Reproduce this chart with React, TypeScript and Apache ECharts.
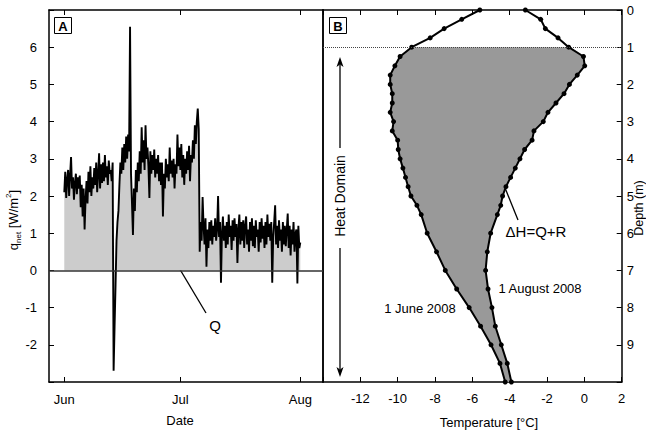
import React, { useEffect, useRef } from 'react';
import * as echarts from 'echarts';

// ---------- Panel A: net heat flux (4 samples per day, starting 1 June) ----------
const monthTickDays = [0, 30, 61];
const monthTickLabels = ['Jun', 'Jul', 'Aug'];
const qStepDays = 0.25;

const qJun = [
  2.1, 2.65, 1.95, 2.45,
  2.7, 2.0, 2.55, 3.05,
  2.2, 2.5, 1.9, 2.35,
  2.6, 2.05, 2.5, 2.2,
  2.55, 1.7, 2.3, 1.45,
  2.2, 1.1, 1.9, 2.4,
  1.8, 2.65, 2.1, 2.8,
  2.0, 2.5, 2.2, 2.75,
  2.3, 2.9, 2.1, 2.6,
  3.15, 2.2, 2.85, 2.35,
  2.9, 2.4, 3.1, 2.5,
  2.8, 2.3, 2.95, 2.6,
  2.7, 2.4, 2.9, -2.7,
  -1.5, -0.4, 0.8, 1.3,
  1.6, 2.3, 2.9, 2.6,
  3.3, 2.7, 3.4, 2.9,
  3.6, 3.0, 3.65, 3.2,
  6.55, 2.6, 1.8, 0.95,
  2.2, 1.6, 2.7, 2.1,
  2.9, 2.4, 3.2, 2.6,
  3.85, 2.9, 3.5, 2.7,
  3.9, 3.0, 3.3, 2.8,
  1.95, 3.2, 2.6, 3.1,
  2.7, 3.25, 2.5, 3.0,
  2.6, 3.1, 2.4, 2.9,
  2.3, 2.9, 1.45, 2.6,
  2.2, 3.0, 2.5, 2.85,
  2.4, 3.3, 2.6, 2.95,
  2.5, 3.0, 2.2, 2.85,
  2.6, 3.65, 2.8, 3.3,
];

const qJul = [
  2.7, 3.4, 2.5, 3.1,
  2.3, 3.0, 2.6, 3.2,
  2.7, 3.35, 2.4, 3.1,
  2.9, 3.5, 3.0, 3.9,
  3.4, 4.0, 4.35, 3.8,
  0.5, 1.3, 0.8, 1.97,
  1.2, 0.7, 1.4, 0.1,
  1.1, 0.6, 1.3, 0.8,
  1.35, 0.7, 1.2, 0.9,
  1.4, 0.8, 1.1, 2.0,
  0.9, 1.3, -0.33, 1.0,
  1.45, 0.8, 1.2, 0.6,
  1.3, 0.7, 1.5, 0.9,
  1.2, 0.55, 1.35, 0.8,
  1.4, 0.9, 1.25, 0.2,
  1.1, 1.5, 0.7, 1.3,
  0.8, 1.35, 0.6, 1.2,
  1.45, 0.7, 1.1, 0.5,
  1.3, 0.8, 1.4, 0.65,
  1.2, 0.6, 1.35, 0.9,
  1.1, 0.5, 1.3, 0.75,
  1.4, 0.85, 1.2, 0.6,
  1.3, 0.7, 1.5, 0.9,
  1.25, 0.8, 1.3, -0.33,
  0.9, 1.3, 1.75, 0.7,
  1.2, 0.6, 1.35, 0.8,
  1.1, 0.5, 1.3, 0.7,
  1.2, 0.65, 1.1, 1.53,
  0.6, 1.2, 0.4, 1.1,
  0.7, 1.3, 0.5, 1.0,
  1.1, -0.35, 1.2, 0.6,
  0.75,
];

// ---------- Panel B: temperature profiles ----------
const depths = [0, 0.25, 0.5, 0.75, 1, 1.25, 1.5, 1.75, 2, 2.25, 2.5, 2.75, 3, 3.25, 3.5, 3.75,
  4, 4.25, 4.5, 4.75, 5, 5.25, 5.5, 6, 6.5, 7, 7.5, 8, 8.5, 9, 9.5, 10];
const tempJune = [-5.6, -6.57, -7.51, -8.26, -9.25, -9.87, -10.15, -10.4, -10.4, -10.29, -10.29, -10.4,
  -10.22, -10.29, -10.0, -9.97, -9.87, -9.72, -9.58, -9.44, -9.29, -8.97, -8.74, -8.42, -7.92, -7.45,
  -6.84, -6.17, -5.56, -5.0, -4.52, -4.24];
const tempAug = [-3.16, -2.34, -2.09, -1.41, -0.84, -0.05, 0.02, -0.38, -0.8, -1.09, -1.52, -1.95,
  -2.2, -2.7, -2.8, -3.2, -3.45, -3.7, -3.95, -4.2, -4.38, -4.48, -4.66, -5.02, -5.2, -5.29, -5.16,
  -4.95, -4.77, -4.45, -4.13, -3.91];
const heatDomainTop = 1;

const FONT = 'Liberation Sans, Arial, sans-serif';

function arrow(x1: number, y1: number, x2: number, y2: number, len = 10, half = 3.5) {
  const dx = x2 - x1, dy = y2 - y1;
  const d = Math.sqrt(dx * dx + dy * dy);
  const ux = dx / d, uy = dy / d;
  const px = -uy, py = ux;
  const bx = x2 - ux * len, by = y2 - uy * len;
  const nx = x2 - ux * len * 0.75, ny = y2 - uy * len * 0.75;
  return [
    { type: 'line', shape: { x1, y1, x2: nx, y2: ny }, style: { stroke: '#000', lineWidth: 1.3 }, silent: true },
    {
      type: 'polygon',
      shape: { points: [[x2, y2], [bx + px * half, by + py * half], [nx, ny], [bx - px * half, by - py * half]] },
      style: { fill: '#000' }, silent: true,
    },
  ];
}

function txt(x: number, y: number, text: string, size = 13) {
  return {
    type: 'text', x, y, silent: true,
    style: { text, fill: '#000', font: `${size}px ${FONT}`, align: 'center', verticalAlign: 'middle' },
  };
}

export default function App() {
  const ref = useRef<HTMLDivElement>(null);
  useEffect(() => {
    if (!ref.current) return;
    const chart = echarts.init(ref.current, null, { renderer: 'svg' });
    const qAll = [...qJun, ...qJul];
    const qData = qAll.map((v, i) => [i * qStepDays, v]);
    const axisLine = { show: true, onZero: false, lineStyle: { color: '#000', width: 1.5 } };
    const tick = { show: true, inside: true, length: 5, lineStyle: { color: '#000', width: 1 } };
    const lbl = { color: '#000', fontSize: 13, fontFamily: FONT };

    const graphic: any[] = [
      // panel tags
      { type: 'rect', shape: { x: 54.5, y: 17.5, width: 17, height: 16 }, style: { fill: '#fff', stroke: '#000', lineWidth: 1 }, z: 100 },
      { type: 'text', x: 63, y: 26, z: 101, style: { text: 'A', font: `bold 13px ${FONT}`, fill: '#000', align: 'center', verticalAlign: 'middle' } },
      { type: 'rect', shape: { x: 329.5, y: 17.5, width: 17, height: 16 }, style: { fill: '#fff', stroke: '#000', lineWidth: 1 }, z: 100 },
      { type: 'text', x: 338, y: 26, z: 101, style: { text: 'B', font: `bold 13px ${FONT}`, fill: '#000', align: 'center', verticalAlign: 'middle' } },
      // axis names
      txt(180, 420, 'Date', 13),
      txt(489, 422, 'Temperature [°C]', 13),
      { type: 'text', x: 638.5, y: 208, rotation: Math.PI / 2, style: { text: 'Depth (m)', fill: '#000', font: `12.5px ${FONT}`, align: 'center', verticalAlign: 'middle' } },
      {
        type: 'text', x: 13, y: 220, rotation: Math.PI / 2,
        style: {
          text: '{n|q}{s|net}{n| [W/m}{p|2}{n|]}', align: 'center', verticalAlign: 'middle', fill: '#000',
          rich: {
            n: { fontSize: 13, fontFamily: FONT, lineHeight: 18, verticalAlign: 'middle', fill: '#000' },
            s: { fontSize: 8, fontFamily: FONT, lineHeight: 8, verticalAlign: 'bottom', fill: '#000' },
            p: { fontSize: 8, fontFamily: FONT, lineHeight: 8, verticalAlign: 'top', fill: '#000' },
          },
        },
      },
      // annotations A
      txt(215, 325, 'Q', 15),
      ...arrow(206, 313, 166, 246),
      // annotations B
      txt(536, 231, 'ΔH=Q+R', 15),
      ...arrow(518, 220, 493, 158),
      txt(540, 288, '1 August 2008', 13),
      txt(420, 308, '1 June 2008', 13),
      { type: 'text', x: 340, y: 196, rotation: Math.PI / 2, style: { text: 'Heat Domain', fill: '#000', font: `14px ${FONT}`, align: 'center', verticalAlign: 'middle' } },
      ...arrow(340, 148, 340, 57),
      ...arrow(340, 248, 340, 377),
    ];

    chart.setOption({
      animation: false,
      backgroundColor: '#fff',
      grid: [
        { left: 49, top: 10, width: 274, height: 372 },
        { left: 323, top: 10, width: 298.7, height: 372 },
      ],
      xAxis: [
        {
          gridIndex: 0, type: 'value', min: -3.95, max: 66.87, position: 'bottom',
          axisLine, axisTick: { ...tick, customValues: monthTickDays },
          axisLabel: { ...lbl, margin: 11, customValues: monthTickDays,
            formatter: (v: number) => monthTickLabels[monthTickDays.indexOf(Math.round(v))] ?? '' },
          splitLine: { show: false },
        },
        {
          gridIndex: 0, type: 'value', min: -3.95, max: 66.87, position: 'top',
          axisLine, axisTick: { ...tick, customValues: monthTickDays },
          axisLabel: { show: false }, splitLine: { show: false },
        },
        {
          gridIndex: 1, type: 'value', min: -14, max: 2, interval: 2, position: 'bottom',
          axisLine, axisTick: tick,
          axisLabel: { ...lbl, margin: 10, showMaxLabel: true, formatter: (v: number) => (v === -14 ? '' : String(v)) },
          splitLine: { show: false },
        },
        {
          gridIndex: 1, type: 'value', min: -14, max: 2, interval: 2, position: 'top',
          axisLine, axisTick: tick, axisLabel: { show: false }, splitLine: { show: false },
        },
      ],
      yAxis: [
        {
          gridIndex: 0, type: 'value', min: -3, max: 7, interval: 1, position: 'left',
          axisLine, axisTick: tick,
          axisLabel: { ...lbl, margin: 12, formatter: (v: number) => (v === -3 || v === 7 ? '' : String(v)) },
          splitLine: { show: false },
        },
        {
          gridIndex: 0, type: 'value', min: -3, max: 7, interval: 1, position: 'right',
          axisLine, axisTick: { show: false }, axisLabel: { show: false }, splitLine: { show: false },
        },
        {
          gridIndex: 1, type: 'value', min: 0, max: 10, interval: 1, inverse: true, position: 'right',
          axisLine, axisTick: tick,
          axisLabel: { ...lbl, margin: 5, showMinLabel: true, formatter: (v: number) => (v === 10 ? '' : String(v)) },
          splitLine: { show: false },
        },
        {
          gridIndex: 1, type: 'value', min: 0, max: 10, inverse: true, position: 'left',
          axisLine, axisTick: { show: false }, axisLabel: { show: false }, splitLine: { show: false },
        },
      ],
      series: [
        {
          type: 'line', xAxisIndex: 0, yAxisIndex: 0, data: qData, showSymbol: false, symbol: 'none',
          lineStyle: { color: '#000', width: 1.9 }, areaStyle: { color: '#cccccc', opacity: 1 },
          markLine: {
            silent: true, symbol: 'none', label: { show: false },
            lineStyle: { color: '#333', width: 1.5, type: 'solid' },
            data: [{ yAxis: 0 }],
          },
          z: 2,
        },
        {
          type: 'custom', xAxisIndex: 2, yAxisIndex: 2, data: [[-5, 5]], silent: true, z: 1,
          renderItem: (_params: any, api: any) => {
            const pts: number[][] = [];
            for (let i = 0; i < depths.length; i++) if (depths[i] >= heatDomainTop) pts.push(api.coord([tempJune[i], depths[i]]));
            for (let i = depths.length - 1; i >= 0; i--) if (depths[i] >= heatDomainTop) pts.push(api.coord([tempAug[i], depths[i]]));
            return { type: 'polygon', shape: { points: pts }, style: { fill: '#999999' } };
          },
        },
        {
          type: 'line', name: '1 June 2008', xAxisIndex: 2, yAxisIndex: 2,
          data: depths.map((d, i) => [tempJune[i], d]),
          symbol: 'circle', symbolSize: 5, itemStyle: { color: '#000' },
          lineStyle: { color: '#000', width: 2 }, z: 3,
        },
        {
          type: 'line', name: '1 August 2008', xAxisIndex: 2, yAxisIndex: 2,
          data: depths.map((d, i) => [tempAug[i], d]),
          symbol: 'circle', symbolSize: 5, itemStyle: { color: '#000' },
          lineStyle: { color: '#000', width: 2 }, z: 3,
          markLine: {
            silent: true, symbol: 'none', label: { show: false },
            lineStyle: { color: '#444', width: 1, type: [1, 1] },
            data: [{ yAxis: heatDomainTop }],
          },
        },
      ],
      graphic,
    });
    return () => chart.dispose();
  }, []);
  return <div ref={ref} style={{ position: 'absolute', left: 0, top: 0, width: 646, height: 432 }} />;
}
